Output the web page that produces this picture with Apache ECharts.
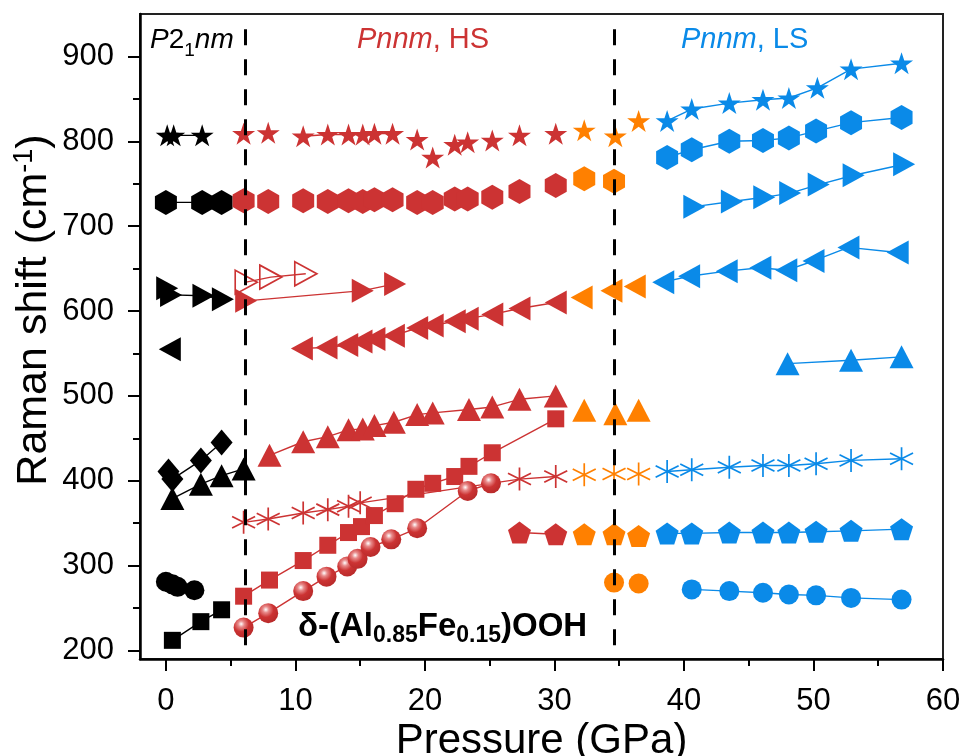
<!DOCTYPE html>
<html>
<head>
<meta charset="utf-8">
<title>Raman shift vs pressure</title>
<script src="https://cdn.jsdelivr.net/npm/echarts/dist/echarts.min.js"></script>
<style>
html, body { margin: 0; padding: 0; background: #fff; }
#chart { width: 961px; height: 756px; }
</style>
</head>
<body>
<div id="chart"></div>
<script>
// axis ranges and ticks
var xMin = -2, xMax = 60;
var yMin = 190, yMax = 950;
var xTicks = [0, 10, 20, 30, 40, 50, 60];
var xMinor = [5, 15, 25, 35, 45, 55];
var yTicks = [200, 300, 400, 500, 600, 700, 800, 900];
var yMinor = [250, 350, 450, 550, 650, 750, 850];
// phase boundaries (GPa)
var phaseBounds = [6.1, 34.6];

// [pressure GPa, Raman shift cm-1]
// P21nm (black)
var blackStar = [[0.1, 807], [0.6, 807], [2.8, 807]];
var blackHex = [[0.0, 728], [2.8, 728], [4.3, 728]];
var blackRight = [[0.1, 627], [0.4, 619], [2.9, 618], [4.4, 614]];
var blackLeft = [[0.3, 555]];
var blackDiamond = [[0.2, 411], [0.5, 402], [2.7, 424], [4.3, 445]];
var blackUp = [[0.5, 379], [2.7, 396], [4.3, 406], [6.0, 414]];
var blackCircle = [[0.0, 281], [0.5, 278], [0.9, 275], [2.2, 271]];
var blackSquare = [[0.5, 212], [2.7, 234], [4.3, 248]];

// Pnnm, HS (red)
var redStarA = [[6.0, 809], [7.9, 810]];
var redStarB = [[10.6, 806], [12.5, 808], [14.1, 808], [15.2, 808], [16.1, 809], [17.5, 809]];
var redStarC = [[19.4, 802], [20.6, 781], [22.3, 796], [23.3, 799], [25.2, 801], [27.3, 807], [30.1, 809]];
var redHex = [[6.0, 730], [7.9, 729], [10.6, 730], [12.5, 729], [14.1, 730], [15.2, 729], [16.1, 731], [17.5, 731],
  [19.4, 728], [20.6, 728], [22.3, 732], [23.3, 732], [25.2, 734], [27.3, 741], [30.1, 748]];
var redOpenRight = [[6.2, 634], [8.1, 640], [10.8, 644]];
var redRight = [[6.2, 612], [15.2, 624], [17.7, 632]];
var redLeft = [[10.5, 556], [12.4, 557], [14.0, 560], [15.1, 564], [16.1, 567], [17.6, 571], [19.4, 580],
  [20.6, 583], [22.3, 588], [23.3, 591], [25.2, 596], [27.3, 603], [30.1, 610]];
var redUp = [[8.0, 430], [10.6, 446], [12.5, 452], [14.1, 460], [15.2, 461], [16.1, 465], [17.6, 469],
  [19.4, 478], [20.6, 480], [23.4, 484], [25.2, 487], [27.3, 496], [30.1, 500]];
var redSquare = [[6.0, 264], [8.0, 283], [10.6, 306], [12.5, 324], [14.1, 339], [15.1, 346], [16.1, 359],
  [17.7, 373], [19.3, 390], [20.6, 397], [22.3, 405], [23.4, 417], [25.2, 433], [30.1, 473]];
var redSphere = [[6.0, 227], [7.9, 244], [10.6, 270], [12.4, 287], [14.0, 299], [14.8, 308], [15.8, 322],
  [17.4, 331], [19.4, 344], [23.3, 388], [25.1, 397]];
var redAster = [[6.0, 351], [7.9, 355], [10.6, 362], [12.5, 366], [14.1, 370], [15.0, 374], [27.3, 402], [30.1, 405]];
var redPent = [[27.3, 339], [30.1, 337]];

// transition region (orange)
var orangeStar = [[32.3, 813], [34.7, 806], [36.5, 824]];
var orangeHex = [[32.3, 756], [34.6, 753]];
var orangeLeft = [[32.1, 616], [34.4, 624], [36.2, 629]];
var orangeUp = [[32.3, 483], [34.7, 479], [36.5, 483]];
var orangeAster = [[32.3, 407], [34.6, 408], [36.5, 408]];
var orangePent = [[32.3, 337], [34.6, 337], [36.5, 335]];
var orangeCircle = [[34.6, 280], [36.5, 279]];

// Pnnm, LS (blue)
var blueStar = [[38.7, 824], [40.6, 838], [43.5, 845], [46.1, 849], [48.1, 851], [50.3, 863], [52.9, 885], [56.8, 892]];
var blueHex = [[38.7, 781], [40.6, 790], [43.5, 800], [46.1, 801], [48.1, 804], [50.2, 812], [52.9, 822], [56.8, 828]];
var blueRight = [[40.8, 723], [43.7, 729], [46.2, 734], [48.2, 739], [50.4, 749], [53.1, 760], [57.0, 773]];
var blueLeft = [[38.4, 634], [40.4, 641], [43.3, 647], [45.9, 651], [47.9, 648], [50.0, 659], [52.7, 675], [56.5, 669]];
var blueUp = [[48.0, 538], [52.9, 542], [56.8, 546]];
var blueAster = [[38.7, 411], [40.6, 413], [43.5, 416], [46.1, 418], [48.1, 418], [50.2, 420], [52.9, 424], [56.8, 426]];
var bluePent = [[38.7, 338], [40.6, 338], [43.5, 339], [46.1, 339], [48.1, 339], [50.2, 340], [52.9, 341], [56.8, 343]];
var blueCircle = [[40.6, 272], [43.5, 270], [46.1, 268], [48.1, 266], [50.2, 265], [52.9, 262], [56.8, 260]];

var BLACK = '#000000', RED = '#CC3333', ORANGE = '#FF8000', BLUE = '#0A8AE8';
var FONT = 'Liberation Sans, Arial, sans-serif';

var sym = {
  star: 'path://M50,0 L61.2,34.5 L97.6,34.5 L68.2,55.9 L79.4,90.5 L50,69.1 L20.6,90.5 L31.8,55.9 L2.4,34.5 L38.8,34.5 Z',
  hex: 'path://M50,0 L93.3,25 L93.3,75 L50,100 L6.7,75 L6.7,25 Z',
  pent: 'path://M50,0 L97.6,34.5 L79.4,90.5 L20.6,90.5 L2.4,34.5 Z',
  right: 'path://M0,0 L10,5 L0,10 Z',
  left: 'path://M10,0 L0,5 L10,10 Z',
  aster: 'path://M50,0 L50,100 M6.7,25 L93.3,75 M6.7,75 L93.3,25'
};
var size = {
  star: [23, 22], hex: [22, 25], pent: [23, 22], right: [22, 24], left: [22, 24],
  up: [24, 23], aster: [23, 23], diamond: [22, 26], square: [17, 17], circle: 20
};

function ser(data, shape, color, line, open) {
  var symbol = sym[shape] || ({up: 'triangle', square: 'rect'}[shape]) || shape;
  var s = {
    type: line ? 'line' : 'scatter',
    data: data,
    symbol: symbol,
    symbolSize: size[shape],
    itemStyle: open ? {color: 'none', borderColor: color, borderWidth: 1.7, opacity: 1}
                    : {color: color, opacity: 1},
    emphasis: {disabled: true},
    z: 3
  };
  if (line) s.lineStyle = {color: color, width: 1.4};
  return s;
}

var sphereFill = {
  type: 'radial', x: 0.38, y: 0.32, r: 0.7,
  colorStops: [
    {offset: 0, color: '#ffffff'},
    {offset: 0.22, color: '#e88a8a'},
    {offset: 0.55, color: '#cc3333'},
    {offset: 1, color: '#b82a2a'}
  ]
};

var series = [
  ser(blackStar, 'star', BLACK, true),
  ser(blackHex, 'hex', BLACK, true),
  ser(blackRight, 'right', BLACK, true),
  ser(blackLeft, 'left', BLACK, false),
  ser(blackDiamond, 'diamond', BLACK, true),
  ser(blackUp, 'up', BLACK, true),
  ser(blackCircle, 'circle', BLACK, false),
  ser(blackSquare, 'square', BLACK, true),

  ser(redStarA, 'star', RED, false),
  ser(redStarB, 'star', RED, true),
  ser(redStarC, 'star', RED, false),
  ser(redHex, 'hex', RED, false),
  ser(redOpenRight, 'right', RED, true, true),
  ser(redRight, 'right', RED, true),
  ser(redLeft, 'left', RED, true),
  ser(redUp, 'up', RED, true),
  ser(redSquare, 'square', RED, true),
  ser(redSphere, 'circle', sphereFill, true),
  ser(redAster, 'aster', RED, true, true),
  ser(redPent, 'pent', RED, true),

  ser(orangeStar, 'star', ORANGE, false),
  ser(orangeHex, 'hex', ORANGE, false),
  ser(orangeLeft, 'left', ORANGE, false),
  ser(orangeUp, 'up', ORANGE, false),
  ser(orangeAster, 'aster', ORANGE, false, true),
  ser(orangePent, 'pent', ORANGE, false),
  ser(orangeCircle, 'circle', ORANGE, false),

  ser(blueStar, 'star', BLUE, true),
  ser(blueHex, 'hex', BLUE, true),
  ser(blueRight, 'right', BLUE, true),
  ser(blueLeft, 'left', BLUE, true),
  ser(blueUp, 'up', BLUE, true),
  ser(blueAster, 'aster', BLUE, true, true),
  ser(bluePent, 'pent', BLUE, true),
  ser(blueCircle, 'circle', BLUE, true)
];
// sphere line is red, not the gradient
series[17].lineStyle.color = RED;

// dashed phase boundaries
var dashTop = 932;
series[0].markLine = {
  silent: true,
  symbol: ['none', 'none'],
  label: {show: false},
  lineStyle: {color: '#000', width: 3, type: [16, 14]},
  data: phaseBounds.map(function (x) { return [{coord: [x, dashTop]}, {coord: [x, yMin]}]; })
};

var myChart = echarts.init(document.getElementById('chart'));
var option = {
  animation: false,
  backgroundColor: '#fff',
  grid: {
    left: 140, right: 18, top: 14, bottom: 97, containLabel: false, outerBoundsMode: 'none',
    show: true, borderColor: '#222', borderWidth: 2
  },
  xAxis: [
    {
      type: 'value', min: xMin, max: xMax, position: 'bottom',
      splitLine: {show: false},
      axisLine: {show: true, onZero: false, lineStyle: {color: '#000', width: 2.5}},
      axisTick: {show: true, length: 12, lineStyle: {color: '#000', width: 2}, customValues: xTicks},
      axisLabel: {customValues: xTicks, fontSize: 31, color: '#000', fontFamily: FONT, margin: 27},
      name: 'Pressure (GPa)', nameLocation: 'middle', nameGap: 61, nameMoveOverlap: false,
      nameTextStyle: {fontSize: 42, color: '#000', fontFamily: FONT}
    },
    {
      type: 'value', min: xMin, max: xMax, position: 'bottom', offset: 0,
      splitLine: {show: false}, axisLine: {show: false, onZero: false}, axisLabel: {show: false},
      axisTick: {show: true, length: 7, lineStyle: {color: '#000', width: 2}, customValues: xMinor}
    }
  ],
  yAxis: [
    {
      type: 'value', min: yMin, max: yMax, position: 'left',
      splitLine: {show: false},
      axisLine: {show: true, onZero: false, lineStyle: {color: '#000', width: 2.5}},
      axisTick: {show: true, length: 12, lineStyle: {color: '#000', width: 2}, customValues: yTicks},
      axisLabel: {customValues: yTicks, fontSize: 31, color: '#000', fontFamily: FONT, margin: 26}
    },
    {
      type: 'value', min: yMin, max: yMax, position: 'left', offset: 0,
      splitLine: {show: false}, axisLine: {show: false, onZero: false}, axisLabel: {show: false},
      axisTick: {show: true, length: 7, lineStyle: {color: '#000', width: 2}, customValues: yMinor}
    }
  ],
  graphic: [
    {
      type: 'text', x: 34, y: 310, rotation: Math.PI / 2,
      style: {
        text: '{a|Raman shift (cm}{p|-1}{a|)}', align: 'center', verticalAlign: 'middle',
        rich: {
          a: {fontSize: 43, fontFamily: FONT, fill: '#000', lineHeight: 46},
          p: {fontSize: 27, fontFamily: FONT, fill: '#000', lineHeight: 28, verticalAlign: 'top'}
        }
      }
    },
    {
      type: 'text', x: 150, y: 40,
      style: {
        text: '{i|P}{r|2}{s|1}{i|nm}', align: 'left', verticalAlign: 'middle',
        rich: {
          i: {fontSize: 28, fontStyle: 'italic', fontFamily: FONT, fill: '#000', lineHeight: 40},
          r: {fontSize: 28, fontFamily: FONT, fill: '#000', lineHeight: 40},
          s: {fontSize: 19, fontFamily: FONT, fill: '#000', lineHeight: 18, verticalAlign: 'bottom'}
        }
      }
    },
    {
      type: 'text', x: 357, y: 40,
      style: {
        text: '{i|Pnnm}{r|, HS}', align: 'left', verticalAlign: 'middle',
        rich: {
          i: {fontSize: 29, fontStyle: 'italic', fontFamily: FONT, fill: RED},
          r: {fontSize: 29, fontFamily: FONT, fill: RED}
        }
      }
    },
    {
      type: 'text', x: 681, y: 40,
      style: {
        text: '{i|Pnnm}{r|, LS}', align: 'left', verticalAlign: 'middle',
        rich: {
          i: {fontSize: 29, fontStyle: 'italic', fontFamily: FONT, fill: BLUE},
          r: {fontSize: 29, fontFamily: FONT, fill: BLUE}
        }
      }
    },
    {
      type: 'text', x: 298, y: 627, z: 10,
      style: {
        text: '{b|δ-(Al}{s|0.85}{b|Fe}{s|0.15}{b|)OOH}', align: 'left', verticalAlign: 'middle',
        rich: {
          b: {fontSize: 33, fontWeight: 'bold', fontFamily: FONT, fill: '#000', lineHeight: 40},
          s: {fontSize: 23, fontWeight: 'bold', fontFamily: FONT, fill: '#000', lineHeight: 20, verticalAlign: 'bottom'}
        }
      }
    }
  ],
  series: series
};

myChart.setOption(option);
</script>
</body>
</html>
